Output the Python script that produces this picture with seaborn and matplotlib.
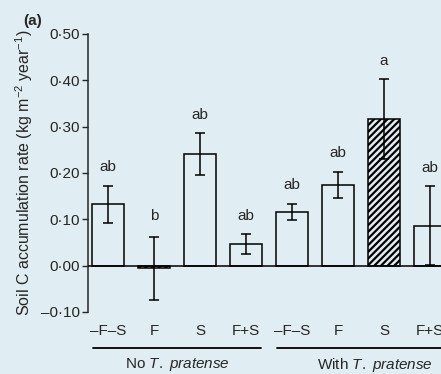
import matplotlib
matplotlib.use("Agg")
import matplotlib.pyplot as plt
import matplotlib.transforms as mtransforms
from matplotlib.ticker import FuncFormatter
import pandas as pd
import seaborn as sns

# values
groups = ["No", "No", "No", "No", "With", "With", "With", "With"]
treatments = ["–F–S", "F", "S", "F+S", "–F–S", "F", "S", "F+S"]
rates = [0.133, -0.006, 0.241, 0.047, 0.116, 0.174, 0.316, 0.086]
errors = [0.040, 0.068, 0.045, 0.022, 0.018, 0.029, 0.086, 0.085]
letters = ["ab", "b", "ab", "ab", "ab", "ab", "a", "ab"]
hatched = [False, True, False, False, False, False, True, False]

bg = "#e0edf2"

df = pd.DataFrame({
    "key": [f"{g} {t}" for g, t in zip(groups, treatments)],
    "rate": rates,
})

sns.set_style("ticks")
plt.rcParams["font.family"] = ["Liberation Sans", "DejaVu Sans"]
plt.rcParams["mathtext.fontset"] = "custom"
plt.rcParams["mathtext.rm"] = "Liberation Sans"
plt.rcParams["mathtext.it"] = "Liberation Sans:italic"
plt.rcParams["hatch.linewidth"] = 1.6

fs = 11

fig = plt.figure(figsize=(4.41, 3.74), dpi=100, facecolor=bg)
ax = fig.add_axes([0.1995, 0.1658, 0.8005, 0.7433])
ax.set_facecolor(bg)

sns.barplot(data=df, x="key", y="rate", ax=ax, errorbar=None, width=0.69,
            color=bg, edgecolor="black", linewidth=1.1, zorder=2)

for patch, h in zip(ax.patches, hatched):
    patch.set_facecolor(bg)
    if h:
        patch.set_hatch("/////")

xs = list(range(len(rates)))
ax.errorbar(xs, rates, yerr=errors, fmt="none", ecolor="black",
            elinewidth=1.1, capsize=3.5, capthick=1.1, zorder=3)

for x, r, e, lab in zip(xs, rates, errors, letters):
    top = max(r, 0) + e
    ax.annotate(lab, (x, top), xytext=(0, 8), textcoords="offset points",
                ha="center", va="bottom", fontsize=fs)

ax.axhline(0, color="black", lw=1.1, zorder=4)

ax.set_xlim(-0.435, 7.24)
ax.set_ylim(-0.10, 0.50)
ax.set_yticks([-0.10, 0.00, 0.10, 0.20, 0.30, 0.40, 0.50])
ax.yaxis.set_major_formatter(
    FuncFormatter(lambda v, p: f"{v:.2f}".replace(".", "·").replace("-", "–")))
ax.set_xticks(xs)
ax.set_xticklabels(treatments)
ax.tick_params(axis="x", length=0, pad=9, labelsize=fs)
ax.tick_params(axis="y", length=4, width=1, direction="out", labelsize=fs, pad=2)
ax.set_xlabel("")
ax.set_ylabel("Soil C accumulation rate (kg m$^{-2}$ year$^{-1}$)", fontsize=11.5, labelpad=4)

sns.despine(ax=ax, top=True, right=True, bottom=True)
ax.spines["left"].set_linewidth(1.1)

trans = mtransforms.blended_transform_factory(ax.transData, ax.transAxes)
ax.plot([-0.33, 3.33], [-0.13, -0.13], color="black", lw=1.3,
        transform=trans, clip_on=False)
ax.plot([3.68, 7.6], [-0.13, -0.13], color="black", lw=1.3,
        transform=trans, clip_on=False)
ax.text(1.5, -0.19, "No $\\it{T.\\ pratense}$", transform=trans,
        ha="center", va="center", fontsize=fs)
ax.text(5.8, -0.19, "With $\\it{T.\\ pratense}$", transform=trans,
        ha="center", va="center", fontsize=fs)

fig.text(0.052, 0.944, "(a)", fontsize=fs, fontweight="bold", ha="left", va="center")

fig.savefig("out.png", dpi=100, facecolor=bg)
